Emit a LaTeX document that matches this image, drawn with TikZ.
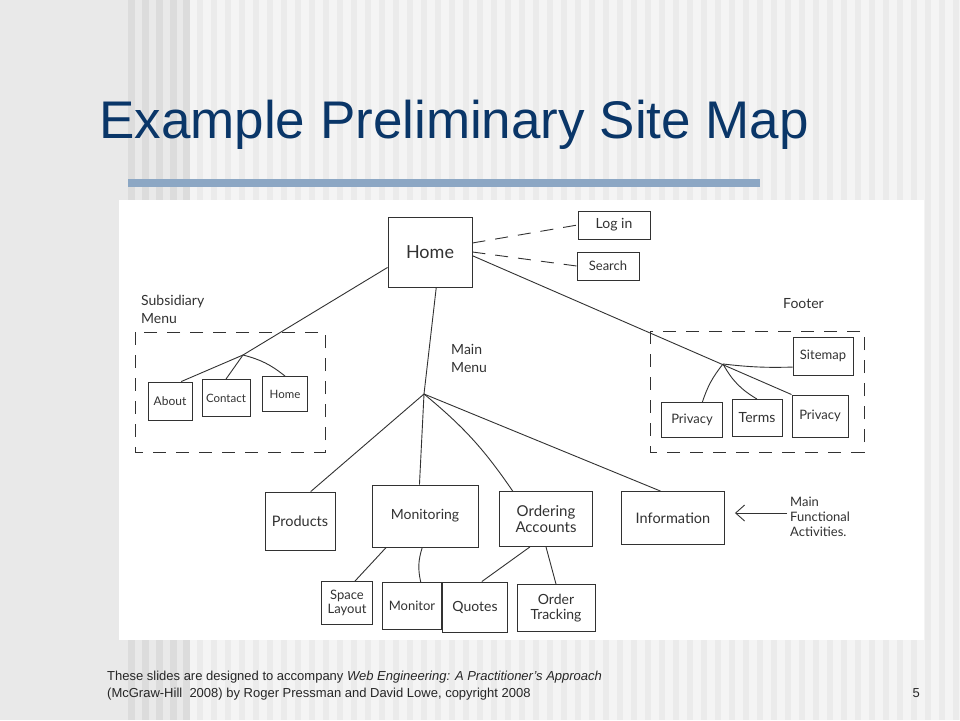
\documentclass[tikz,border=0pt]{standalone}
\usepackage{fontspec}
\setmainfont{Liberation Sans}
\newfontfamily\hand{Lato}
\usetikzlibrary{arrows.meta}
\definecolor{titleblue}{RGB}{10,54,104}
\definecolor{barblue}{RGB}{140,167,196}
\definecolor{ink}{RGB}{50,50,50}
\definecolor{bgleft}{RGB}{233,233,233}
\definecolor{stripedark}{RGB}{220,220,220}
\definecolor{bglight}{RGB}{244,244,244}
\definecolor{stripelight}{RGB}{235,235,235}
\tikzset{
  hbox/.style={draw=ink, line width=0.9pt, fill=white, inner sep=1pt, align=center, font=\hand\fontsize{13}{14}\selectfont, text=ink},
  hline/.style={draw=ink, line width=0.9pt},
  hdash/.style={draw=ink, line width=0.9pt, dash pattern=on 13pt off 10pt},
  hlabel/.style={font=\hand\fontsize{14}{18}\selectfont, text=ink, align=left, inner sep=0},
}
\begin{document}
\begin{tikzpicture}[x=1pt,y=-1pt]
\useasboundingbox (0,0) rectangle (960,720);
% background
\fill[bglight] (0,0) rectangle (960,720);
\fill[bgleft] (0,0) rectangle (190,720);
\foreach \s in {128,142,156,170,183} {\fill[stripedark] (\s,0) rectangle (\s+7,720);}
\foreach \s in {197,211,...,960} {\fill[stripelight] (\s,0) rectangle (\s+6,720);}
\fill[bgleft] (0,0) rectangle (128,720);
% title
\node[anchor=base west, inner sep=0, font=\fontsize{53}{60}\selectfont, text=titleblue] (title) at (99,138) {Example Preliminary Site Map};
\fill[barblue] (128,179) rectangle (760,187);
% picture area
\fill[white] (119,200) rectangle (924,640);
% footer
\node[anchor=base west, inner sep=0, font=\fontsize{13}{14}\selectfont, text=black!85] (foot1) at (107,680) {These slides are designed to accompany \textit{Web Engineering: A Practitioner's Approach}};
\node[anchor=base west, inner sep=0, font=\fontsize{13}{14}\selectfont, text=black!85] (foot2) at (107,697) {(McGraw-Hill\ \ 2008) by Roger Pressman and David Lowe, copyright 2008};
\node[anchor=base east, inner sep=0, font=\fontsize{13}{14}\selectfont, text=black!85] (pagenum) at (920,697) {5};

% dashed group boxes
\draw[hdash] (135,332) rectangle (325,452);
\draw[hdash] (650,331) rectangle (864,452);

% labels
\node[hlabel, anchor=north west] (sublabel) at (141,295) {Subsidiary\\Menu};
\node[hlabel, anchor=north west] (mainlabel) at (451,344) {Main\\Menu};
\node[hlabel, anchor=north west] (footlabel) at (783,298) {Footer};
\node[hlabel, anchor=north west, font=\hand\fontsize{13}{15}\selectfont] (funclabel) at (790,497) {Main\\Functional\\Activities.};

% boxes
\node[hbox, minimum width=84pt, minimum height=70pt, font=\hand\fontsize{18}{18}\selectfont] (home) at (430,252) {Home};
\node[hbox, minimum width=72pt, minimum height=28pt, font=\hand\fontsize{14}{14}\selectfont] (login) at (614,225) {Log in};
\node[hbox, minimum width=62pt, minimum height=28pt] (search) at (608,266) {Search};
\node[hbox, minimum width=44pt, minimum height=38pt, font=\hand\fontsize{12}{14}\selectfont] (about) at (170,401) {About};
\node[hbox, minimum width=48pt, minimum height=37pt, font=\hand\fontsize{11.5}{14}\selectfont] (contact) at (226,398) {Contact};
\node[hbox, minimum width=45pt, minimum height=35pt, font=\hand\fontsize{11.5}{14}\selectfont] (home2) at (285,394) {Home};
\node[hbox, minimum width=60pt, minimum height=38pt] (sitemap) at (823,356) {Sitemap};
\node[hbox, minimum width=61pt, minimum height=35pt] (priv1) at (692,420) {Privacy};
\node[hbox, minimum width=50pt, minimum height=37pt, font=\hand\fontsize{14}{14}\selectfont] (terms) at (757,418) {Terms};
\node[hbox, minimum width=56pt, minimum height=42pt] (priv2) at (820,416) {Privacy};
\node[hbox, minimum width=70pt, minimum height=58pt, font=\hand\fontsize{14.5}{14}\selectfont] (products) at (300,521) {Products};
\node[hbox, minimum width=106pt, minimum height=62pt, font=\hand\fontsize{14}{14}\selectfont] (monitoring) at (425,516) {Monitoring};
\node[hbox, minimum width=93pt, minimum height=55pt, font=\hand\fontsize{15}{16}\selectfont] (ordering) at (546,519) {Ordering\\Accounts};
\node[hbox, minimum width=103pt, minimum height=53pt, font=\hand\fontsize{14.5}{14}\selectfont] (information) at (673,518) {Information};
\node[hbox, minimum width=51pt, minimum height=43pt] (space) at (347,603) {Space\\Layout};
\node[hbox, minimum width=59pt, minimum height=47pt] (monitor) at (412,606) {Monitor};
\node[hbox, minimum width=65pt, minimum height=50pt, font=\hand\fontsize{14}{14}\selectfont] (quotes) at (475,607) {Quotes};
\node[hbox, minimum width=78pt, minimum height=47pt, font=\hand\fontsize{14}{15}\selectfont] (tracking) at (556,608) {Order\\Tracking};

% junctions
\coordinate (subj) at (243,355);
\coordinate (mainj) at (424,394);
\coordinate (footj) at (723,364);
\coordinate (arrowstart) at (787,513);

% connectors
\draw[hdash] (home.12) -- (login.west);
\draw[hdash] (home.east) -- (search.west);
\draw[hline] (home.200) -- (subj);
\draw[hline] (subj) -- (about.60);
\draw[hline] (subj) -- (contact.north);
\draw[hline] (subj) to[bend left=12] (home2.north);
\draw[hline] (home.-80) -- (mainj);
\draw[hline] (mainj) -- (products.70);
\draw[hline] (mainj) -- (monitoring.100);
\draw[hline] (mainj) to[bend left=8] (ordering.140);
\draw[hline] (mainj) -- (information.115);
\draw[hline] (home.-5) -- (priv2.north west);
\draw[hline] (footj) to[bend right=10] (priv1.60);
\draw[hline] (footj) to[bend right=15] (terms.north);
\draw[hline] (footj) to[bend right=4] (sitemap.200);
\draw[hline] (monitoring.-141) -- (space.70);
\draw[hline] (monitoring.-95) to[bend right=15] (monitor.70);
\draw[hline] (ordering.-120) -- (quotes.75);
\draw[hline] (ordering.south) -- (tracking.north);
\draw[hline, -{Straight Barb[length=9pt, width=16pt, line width=0.9pt]}] (arrowstart) -- ([xshift=10pt]information.east |- arrowstart);
\end{tikzpicture}
\end{document}
